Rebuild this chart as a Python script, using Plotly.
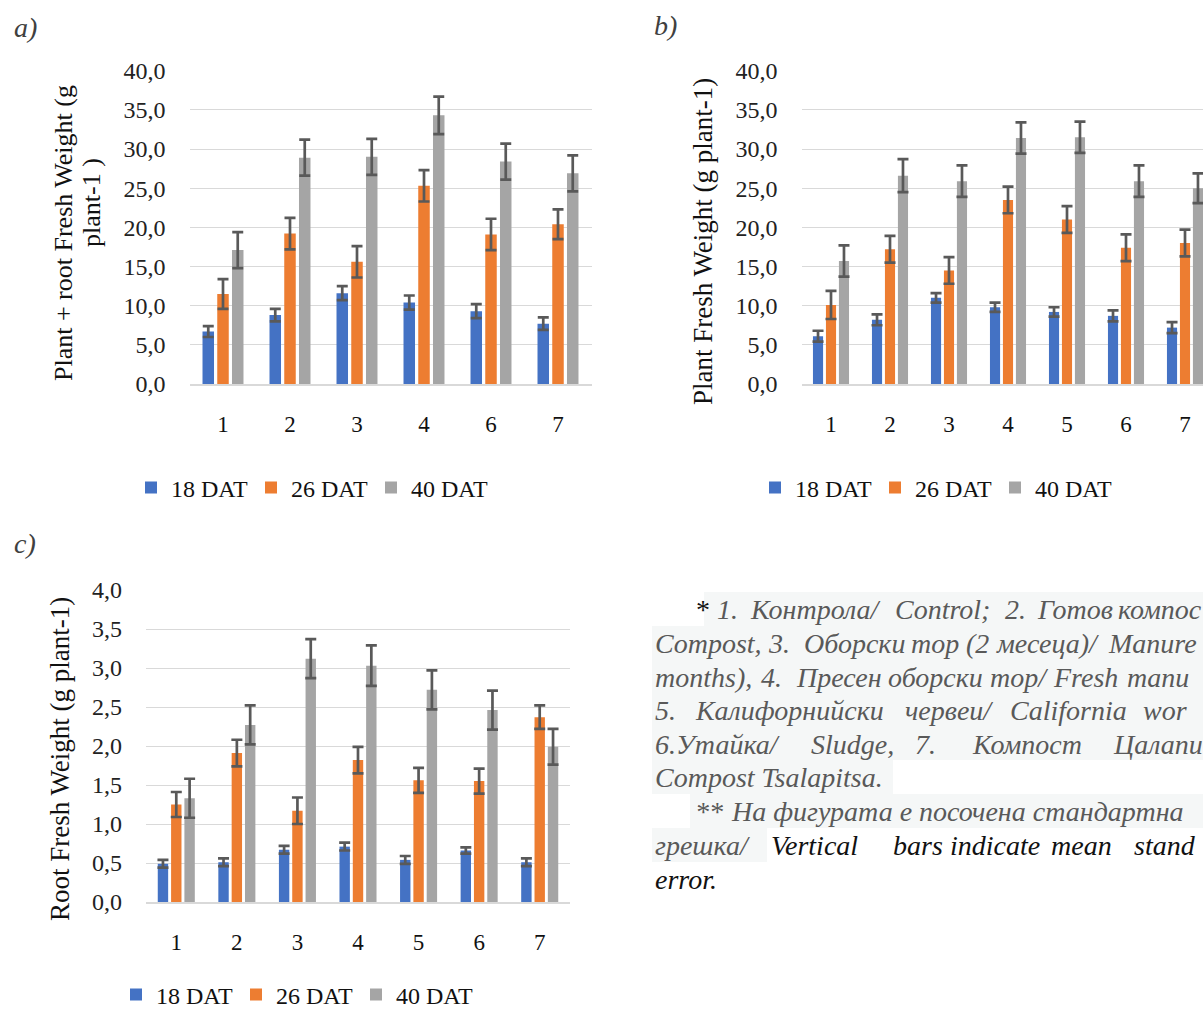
import plotly.graph_objects as go

W, H = 1203, 1011

# ---------------- data ----------------
series_names = ["18 DAT", "26 DAT", "40 DAT"]
series_colors = ["#4472C4", "#ED7D31", "#A5A5A5"]

cats_a = ["1", "2", "3", "4", "6", "7"]
a_18 = [6.7, 8.8, 11.6, 10.4, 9.3, 7.7]
a_18_err = [0.7, 0.8, 0.9, 0.9, 0.9, 0.8]
a_26 = [11.5, 19.2, 15.6, 25.3, 19.1, 20.4]
a_26_err = [1.9, 2.0, 2.0, 2.0, 2.0, 1.9]
a_40 = [17.1, 28.9, 29.0, 34.3, 28.4, 26.9]
a_40_err = [2.3, 2.3, 2.3, 2.4, 2.3, 2.3]

cats_b = ["1", "2", "3", "4", "5", "6", "7"]
b_18 = [6.1, 8.2, 11.0, 9.8, 9.2, 8.7, 7.2]
b_18_err = [0.7, 0.7, 0.6, 0.6, 0.6, 0.7, 0.7]
b_26 = [10.1, 17.2, 14.5, 23.5, 21.0, 17.4, 18.0]
b_26_err = [1.8, 1.7, 1.7, 1.7, 1.7, 1.7, 1.7]
b_40 = [15.7, 26.6, 25.9, 31.4, 31.5, 25.9, 25.0]
b_40_err = [2.0, 2.1, 2.0, 2.0, 2.0, 2.0, 1.9]

cats_c = ["1", "2", "3", "4", "5", "6", "7"]
c_18 = [0.49, 0.51, 0.67, 0.71, 0.54, 0.66, 0.51]
c_18_err = [0.05, 0.05, 0.05, 0.05, 0.05, 0.04, 0.05]
c_26 = [1.25, 1.91, 1.17, 1.82, 1.56, 1.55, 2.37]
c_26_err = [0.16, 0.17, 0.17, 0.17, 0.16, 0.16, 0.15]
c_40 = [1.33, 2.27, 3.12, 3.03, 2.72, 2.46, 1.99]
c_40_err = [0.25, 0.25, 0.25, 0.26, 0.25, 0.25, 0.23]

yticks_ab = [0, 5, 10, 15, 20, 25, 30, 35, 40]
yticks_c = [0, 0.5, 1.0, 1.5, 2.0, 2.5, 3.0, 3.5, 4.0]

title_a1 = "Plant + root Fresh Weight (g"
title_a2 = "plant-1 )"
title_b = "Plant Fresh Weight (g plant-1)"
title_c = "Root Fresh Weight (g plant-1)"

# ---------------- helpers ----------------
SERIF = "Liberation Serif, Times New Roman, serif"


def px_x(p):
    return p / W


def px_y(p):
    return 1 - p / H


fig = go.Figure()

panels = [
    ("x", "y", "legend", cats_a, [(a_18, a_18_err), (a_26, a_26_err), (a_40, a_40_err)]),
    ("x2", "y2", "legend2", cats_b, [(b_18, b_18_err), (b_26, b_26_err), (b_40, b_40_err)]),
    ("x3", "y3", "legend3", cats_c, [(c_18, c_18_err), (c_26, c_26_err), (c_40, c_40_err)]),
]

for xa, ya, lg, cats, ser in panels:
    for (vals, errs), name, col in zip(ser, series_names, series_colors):
        fig.add_trace(go.Bar(
            x=cats, y=vals, name=name, marker_color=col, marker_line_width=0,
            error_y=dict(type="data", array=errs, visible=True, color="#595959",
                         thickness=2.7, width=5.5),
            xaxis=xa, yaxis=ya, legend=lg, showlegend=True,
        ))

tickfont = dict(family=SERIF, size=24, color="#222222")
xtickfont = dict(family=SERIF, size=23, color="#111111")


def yaxis_cfg(domain, rng, tickvals, anchor):
    return dict(domain=domain, range=rng, tickvals=tickvals, tickformat=".1f",
                anchor=anchor, showgrid=True, gridcolor="#D9D9D9", gridwidth=1,
                zeroline=False, showline=False, ticks="",
                tickfont=tickfont, ticklabelstandoff=23, fixedrange=True)


def xaxis_cfg(domain, rng, anchor):
    return dict(domain=domain, range=rng, type="category", anchor=anchor,
                showgrid=False, zeroline=False, showline=True, linecolor="#D9D9D9",
                linewidth=1.5, ticks="", tickfont=xtickfont, ticklabelstandoff=19,
                fixedrange=True)


# panel geometry (pixels)
a_left, a_right, a_top, a_bot = 189.5, 591.5, 70.7, 384
b_left, b_top, b_bot = 801.5, 70.7, 384
b_step = 59.0
c_left, c_right, c_top, c_bot = 146, 570, 590, 902

b_range_end = -0.5 + (W - b_left) / b_step

fig.update_layout(
    xaxis=xaxis_cfg([px_x(a_left), px_x(a_right)], [-0.5, 5.5], "y"),
    yaxis=yaxis_cfg([px_y(a_bot), px_y(a_top)], [0, 40], yticks_ab, "x"),
    xaxis2=xaxis_cfg([px_x(b_left), 1.0], [-0.5, b_range_end], "y2"),
    yaxis2=yaxis_cfg([px_y(b_bot), px_y(b_top)], [0, 40], yticks_ab, "x2"),
    xaxis3=xaxis_cfg([px_x(c_left), px_x(c_right)], [-0.5, 6.5], "y3"),
    yaxis3=yaxis_cfg([px_y(c_bot), px_y(c_top)], [0, 4], yticks_c, "x3"),
)

legend_common = dict(orientation="h", font=dict(family=SERIF, size=24, color="#111111"),
                     bgcolor="rgba(0,0,0,0)", borderwidth=0, xanchor="left",
                     yanchor="middle", entrywidth=75, entrywidthmode="pixels",
                     itemclick=False, itemdoubleclick=False, traceorder="normal")

fig.update_layout(
    width=W, height=H,
    margin=dict(l=0, r=0, t=0, b=0, autoexpand=False),
    paper_bgcolor="white", plot_bgcolor="white",
    separators=", ",
    barmode="group", bargap=0.34, bargroupgap=0.22,
    legend=dict(legend_common, x=px_x(131), y=px_y(488)),
    legend2=dict(legend_common, x=px_x(755), y=px_y(488)),
    legend3=dict(legend_common, x=px_x(116), y=px_y(995)),
)

annotations = []
shapes = []

# panel labels
for txt, x, y in [("a)", 12, 27), ("b)", 652, 25), ("c)", 12, 543)]:
    annotations.append(dict(text="<i>" + txt + "</i>", x=px_x(x), y=px_y(y),
                            xref="paper", yref="paper", xanchor="left", yanchor="middle",
                            showarrow=False, font=dict(family=SERIF, size=28, color="#404040")))

# axis titles
for txt, x, y, sz in [(title_a1, 63, 233, 26), (title_a2, 92, 203, 26),
                      (title_b, 703, 242, 27), (title_c, 60, 759, 27)]:
    annotations.append(dict(text=txt, x=px_x(x), y=px_y(y), xref="paper", yref="paper",
                            xanchor="center", yanchor="middle", textangle=-90,
                            showarrow=False, font=dict(family=SERIF, size=sz, color="#111111")))

# footnote text block (justified lines placed word by word; the picture is cropped on the right)
GRAY = "#595959"
BLACK = "#111111"
note_lines = [
    (609, [("*", 694, BLACK, False), ("1.", 715, GRAY, True), ("Контрола/", 748, GRAY, True),
           ("Control;", 893, GRAY, True), ("2.", 1003, GRAY, True), ("Готов", 1035, GRAY, True),
           ("компос", 1116, GRAY, True)]),
    (643, [("Compost,", 652.6, GRAY, True), ("3.", 766, GRAY, True), ("Оборски", 801.6, GRAY, True),
           ("тор", 909, GRAY, True), ("(2", 964, GRAY, True), ("месеца)/", 994, GRAY, True),
           ("Manure", 1106, GRAY, True)]),
    (677, [("months),", 652.6, GRAY, True), ("4.", 758.5, GRAY, True), ("Пресен", 794, GRAY, True),
           ("оборски", 886, GRAY, True), ("тор/", 988, GRAY, True), ("Fresh", 1051, GRAY, True),
           ("manu", 1125, GRAY, True)]),
    (710, [("5.", 652.6, GRAY, True), ("Калифорнийски", 693, GRAY, True), ("червеи/", 903, GRAY, True),
           ("California", 1008, GRAY, True), ("wor", 1141, GRAY, True)]),
    (744, [("6.Утайка/", 652.6, GRAY, True), ("Sludge,", 809, GRAY, True), ("7.", 913, GRAY, True),
           ("Компост", 970, GRAY, True), ("Цалапи", 1111, GRAY, True)]),
    (777, [("Compost Tsalapitsa.", 652.6, GRAY, True)]),
    (811, [("**", 693, GRAY, True), ("На фигурата е посочена стандартна", 729, GRAY, True)]),
    (845, [("грешка/", 652.6, GRAY, True), ("Vertical", 768.5, BLACK, True), ("bars", 891, BLACK, True),
           ("indicate", 948, BLACK, True), ("mean", 1049, BLACK, True), ("stand", 1132, BLACK, True)]),
    (879, [("error.", 652.6, BLACK, True)]),
]

# faint highlight behind the grey text
for x0, x1, y0, y1 in [(704, W, 592, 626), (652, W, 626, 760), (652, 893, 760, 794),
                       (690, W, 794, 828), (652, 767, 828, 862)]:
    shapes.append(dict(type="rect", xref="paper", yref="paper", x0=px_x(x0), x1=px_x(x1),
                       y0=px_y(y1), y1=px_y(y0), fillcolor="#F5F7F7", line_width=0, layer="below"))

for y, words in note_lines:
    for txt, x, col, ital in words:
        t = "<i>" + txt + "</i>" if ital else txt
        annotations.append(dict(text=t, x=px_x(x), y=px_y(y), xref="paper", yref="paper",
                                xanchor="left", yanchor="middle", showarrow=False,
                                font=dict(family=SERIF, size=28, color=col)))

fig.update_layout(annotations=annotations, shapes=shapes)

fig.write_html("out.html", config={"displayModeBar": False},
               post_script="document.body.style.margin='0';")
